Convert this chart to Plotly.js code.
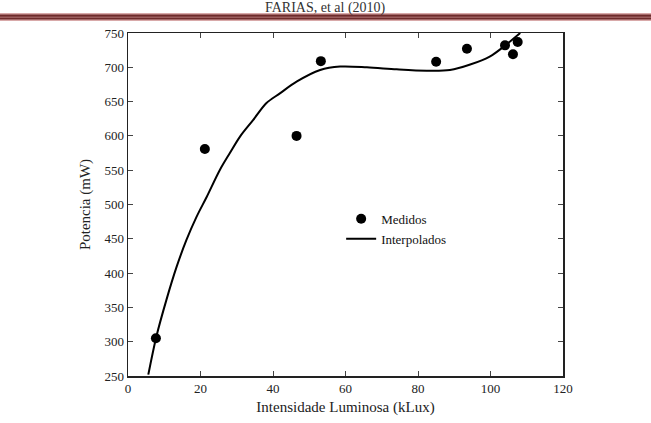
<!DOCTYPE html>
<html>
<head>
<meta charset="utf-8">
<script src="https://cdn.plot.ly/plotly-3.0.1.min.js"></script>
<style>html,body{margin:0;padding:0;background:#fff;}#chart{width:651px;height:423px;}</style>
</head>
<body>
<div id="chart"></div>
<script>
// Measured points
const medX = [7.7, 21.2, 46.5, 53.2, 85.0, 93.5, 104.0, 106.2, 107.5];
const medY = [305, 581, 600, 709, 708, 727, 732, 719, 737];
// Interpolated curve
const intX = [5.6, 7.8, 10.6, 13.4, 16.1, 18.9, 21.7, 25.3, 28.1, 30.9, 34.5, 38.2, 41.9, 46.5, 53.0, 58.5, 65.9, 74.1, 82.4, 88.8, 94.4, 99.9, 103.6, 108.2];
const intY = [252, 307, 361, 409, 448, 482, 511, 550, 575, 599, 623, 648, 662, 679, 696, 701, 700, 697, 695, 696, 704, 716, 730, 750];

const serif = "Liberation Serif, Times New Roman, serif";

const traces = [
  {x: medX, y: medY, type: 'scatter', mode: 'markers', name: 'Medidos',
   marker: {color: '#000', size: 10, symbol: 'circle'}},
  {x: intX, y: intY, type: 'scatter', mode: 'lines', name: 'Interpolados',
   line: {color: '#000', width: 2, shape: 'spline', smoothing: 0.9}}
];

const layout = {
  width: 651, height: 423,
  margin: {l: 128, r: 88, t: 33, b: 47},
  paper_bgcolor: '#fff', plot_bgcolor: '#fff',
  showlegend: true,
  legend: {x: 0.49, y: 0.502, xanchor: 'left', yanchor: 'top', bgcolor: 'rgba(0,0,0,0)',
           font: {family: serif, size: 13, color: '#111'}, tracegroupgap: 0, itemwidth: 30},
  xaxis: {range: [0, 120], tickvals: [0, 20, 40, 60, 80, 100, 120], ticks: 'inside', ticklen: 5,
          mirror: 'ticks', showline: true, linecolor: '#222', linewidth: 1.5, showgrid: false, zeroline: false,
          tickfont: {family: serif, size: 13, color: '#222'},
          title: {text: 'Intensidade Luminosa (kLux)', font: {family: serif, size: 15, color: '#222'}, standoff: 6}},
  yaxis: {range: [250, 750], tickvals: [250, 300, 350, 400, 450, 500, 550, 600, 650, 700, 750], ticks: 'inside', ticklen: 5,
          mirror: 'ticks', showline: true, linecolor: '#222', linewidth: 1.5, showgrid: false, zeroline: false,
          tickfont: {family: serif, size: 13, color: '#222'},
          title: {text: 'Potencia (mW)', font: {family: serif, size: 15, color: '#222'}, standoff: 10}},
  annotations: [
    {text: 'FARIAS, et al (2010)', xref: 'paper', yref: 'paper', x: 0.455, y: 1 + 34 / 343, xanchor: 'center', yanchor: 'top',
     showarrow: false, borderpad: 0, font: {family: serif, size: 14, color: '#333'}}
  ],
  shapes: [
    {type: 'rect', xref: 'paper', yref: 'paper', x0: -0.3, x1: 1.3, y0: 1 + 12 / 343, y1: 1 + 20 / 343, fillcolor: '#d8a9a9', line: {width: 0}, layer: 'above'},
    {type: 'rect', xref: 'paper', yref: 'paper', x0: -0.3, x1: 1.3, y0: 1 + 13.5 / 343, y1: 1 + 18.5 / 343, fillcolor: '#6e2b2b', line: {width: 0}, layer: 'above'},
    {type: 'rect', xref: 'paper', yref: 'paper', x0: -0.3, x1: 1.3, y0: 1 + 15.5 / 343, y1: 1 + 16.3 / 343, fillcolor: '#c89090', line: {width: 0}, layer: 'above'}
  ]
};

Plotly.newPlot('chart', traces, layout, {displayModeBar: false, staticPlot: true});
</script>
</body>
</html>
